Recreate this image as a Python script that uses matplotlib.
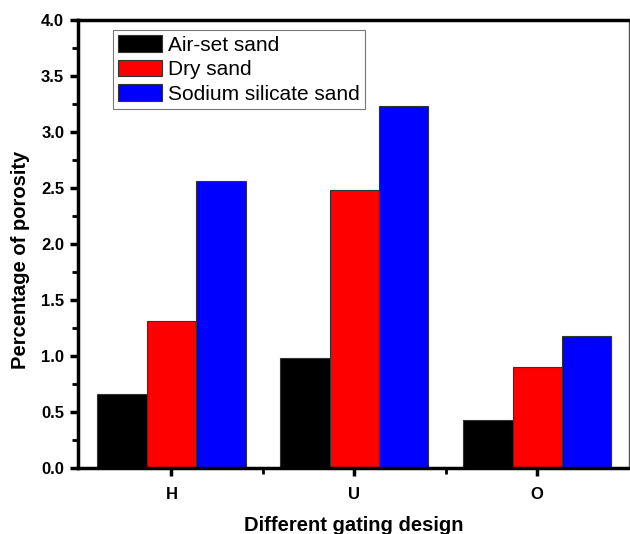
import numpy as np
import matplotlib
matplotlib.use('Agg')
import matplotlib.pyplot as plt
from matplotlib.ticker import MultipleLocator, FixedLocator

plt.rcParams['font.family'] = ['Liberation Sans', 'DejaVu Sans']

# data
designs = ['H', 'U', 'O']
air_set = [0.66, 0.98, 0.43]
dry = [1.31, 2.48, 0.90]
sodium = [2.56, 3.23, 1.18]

series = [('Air-set sand', air_set, '#000000'),
          ('Dry sand', dry, '#ff0000'),
          ('Sodium silicate sand', sodium, '#0000ff')]

fig = plt.figure(figsize=(6.3, 5.34), dpi=100)
ax = fig.add_axes([0.124, 0.1236, 0.874, 0.839])

x = np.arange(len(designs))
w = 0.27
for i, (name, vals, col) in enumerate(series):
    ax.bar(x + (i - 1) * w, vals, w, color=col, edgecolor='#333333',
           linewidth=0.8, label=name)

ax.set_xlim(-0.51, 2.5)
ax.set_ylim(0, 4.0)
ax.set_xticks(x)
ax.set_xticklabels(designs)
ax.xaxis.set_minor_locator(FixedLocator([0.5, 1.5]))
ax.yaxis.set_major_locator(MultipleLocator(0.5))
ax.yaxis.set_minor_locator(MultipleLocator(0.25))
ax.yaxis.set_major_formatter(matplotlib.ticker.FormatStrFormatter('%.1f'))

for s in ['left', 'bottom', 'top']:
    ax.spines[s].set_linewidth(2.5)
ax.spines['right'].set_linewidth(1.0)
ax.spines['right'].set_color('#555555')

ax.tick_params(which='major', direction='out', length=6, width=2.5,
               labelsize=12, pad=4)
ax.tick_params(which='minor', direction='out', length=4, width=2)
ax.tick_params(axis='y', which='both', right=False)
ax.tick_params(axis='x', which='both', top=False)
for lab in ax.get_xticklabels() + ax.get_yticklabels():
    lab.set_fontweight('bold')
ax.tick_params(axis='x', pad=8)

ax.set_xlabel('Different gating design', fontsize=14.5, fontweight='bold',
              labelpad=10)
ax.set_ylabel('Percentage of porosity', fontsize=14.5, fontweight='bold')
ax.yaxis.set_label_coords(-0.088, 0.465)

leg = ax.legend(loc='upper left', bbox_to_anchor=(0.063, 0.978),
                fontsize=15, frameon=True, fancybox=False,
                handlelength=2.1, handleheight=0.85, labelspacing=0.25,
                handletextpad=0.3, borderpad=0.25, borderaxespad=0)
leg.get_frame().set_edgecolor('#555555')
leg.get_frame().set_linewidth(0.8)

fig.savefig('out.png', dpi=100)
